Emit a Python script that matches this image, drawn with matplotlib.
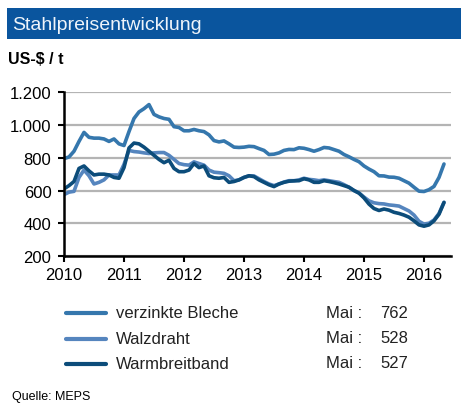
import matplotlib
matplotlib.use("Agg")
import matplotlib.pyplot as plt
from matplotlib.patches import Rectangle
import numpy as np

plt.rcParams['font.family'] = ['Liberation Sans', 'DejaVu Sans']

# Monthly data Jan 2010 - May 2016 (US-$ / t)
verzinkte_bleche = [795, 805, 840, 900, 955, 925, 920, 920, 915, 900, 915, 885,
                    875, 960, 1040, 1080, 1100, 1125, 1065, 1050, 1040, 1035, 990, 985,
                    965, 965, 973, 965, 960, 940, 905, 897, 903, 885, 865, 863,
                    865, 870, 868, 856, 845, 820, 822, 830, 845, 851, 850, 861,
                    858, 850, 840, 850, 863, 860, 850, 840, 820, 806, 790, 776,
                    750, 731, 715, 690, 689, 682, 681, 675, 660, 645, 620, 596,
                    594, 605, 625, 680, 762]
walzdraht = [575, 590, 595, 680, 725, 690, 640, 650, 665, 695, 695, 695,
             760, 845, 838, 835, 830, 826, 830, 832, 832, 815, 790, 765,
             758, 755, 775, 765, 755, 725, 712, 709, 705, 690, 660, 665,
             680, 690, 689, 672, 655, 640, 630, 640, 652, 660, 660, 665,
             675, 668, 665, 660, 665, 660, 655, 650, 636, 620, 600, 585,
             560, 537, 525, 520, 518, 512, 509, 505, 490, 475, 450, 412,
             395, 400, 420, 460, 528]
warmbreitband = [610, 630, 655, 735, 750, 720, 695, 700, 700, 695, 680, 675,
                 740, 860, 890, 885, 865, 840, 815, 790, 770, 785, 735, 715,
                 715, 725, 765, 740, 750, 690, 678, 675, 680, 650, 655, 665,
                 680, 690, 685, 665, 650, 635, 624, 640, 650, 657, 659, 660,
                 672, 665, 650, 650, 660, 655, 648, 640, 630, 620, 600, 584,
                 555, 517, 490, 478, 487, 480, 467, 460, 450, 437, 415, 390,
                 382, 390, 415, 455, 527]
series_names = ["verzinkte Bleche", "Walzdraht", "Warmbreitband"]
latest_values = ["762", "528", "527"]
years = [2010, 2011, 2012, 2013, 2014, 2015, 2016]
y_ticks = [200, 400, 600, 800, 1000, 1200]
y_labels = ["200", "400", "600", "800", "1.000", "1.200"]

colors = ["#3577AD", "#5585BE", "#0C4C7A"]

W, H = 469, 414
fig = plt.figure(figsize=(W / 100, H / 100), dpi=100)

# Title bar
fig.patches.append(Rectangle((7 / W, 1 - 40 / H), (461 - 7) / W, 31 / H,
                             transform=fig.transFigure, facecolor="#0A559E",
                             edgecolor="none", zorder=0))
fig.text(12 / W, 1 - 26 / H, "Stahlpreisentwicklung", color="#EEF4FA",
         fontsize=14, va="center", ha="left")
fig.text(8 / W, 1 - 60 / H, "US-$ / t", fontsize=11.5, fontweight="bold",
         va="center", ha="left")

ax = fig.add_axes([64 / W, 1 - 257 / H, (451 - 64) / W, (257 - 93.3) / H])
x = 2010 + np.arange(len(verzinkte_bleche)) / 12.0
for vals, c in zip([verzinkte_bleche, walzdraht, warmbreitband], colors):
    ax.plot(x, vals, color=c, lw=2.6, solid_capstyle="round", zorder=3)

ax.set_xlim(2010, 2016.45)
ax.set_ylim(200, 1200)
ax.set_xticks(years)
ax.set_xticklabels([str(y) for y in years])
ax.set_yticks(y_ticks)
ax.set_yticklabels(y_labels)
ax.yaxis.grid(True, color="#B4B4B4", lw=1.6, zorder=1)
ax.set_axisbelow(True)
for s in ["top", "right"]:
    ax.spines[s].set_visible(False)
for s in ["left", "bottom"]:
    ax.spines[s].set_linewidth(1.8)
    ax.spines[s].set_color("black")
    ax.spines[s].set_zorder(4)
ax.tick_params(axis="both", labelsize=12, width=1.5, length=4, direction="out")
ax.tick_params(axis="y", pad=5)
ax.tick_params(axis="x", pad=4)

# Legend
leg_y = [314, 340, 365]
for name, c, yy, val in zip(series_names, colors, leg_y, latest_values):
    fy = 1 - yy / H
    fig.add_artist(plt.Line2D([66 / W, 106 / W], [fy, fy], color=c, lw=3,
                              solid_capstyle="round", transform=fig.transFigure))
    fig.text(116 / W, fy, name, fontsize=12, va="center", ha="left",
             color="#222222")
    fig.text(326 / W, fy + 1 / H, "Mai :", fontsize=12, va="center", ha="left",
             color="#222222")
    fig.text(408 / W, fy + 1 / H, val, fontsize=12, va="center", ha="right",
             color="#222222")

fig.text(12 / W, 1 - 397 / H, "Quelle: MEPS", fontsize=9, va="center",
         ha="left")

fig.savefig("out.png", dpi=100)
